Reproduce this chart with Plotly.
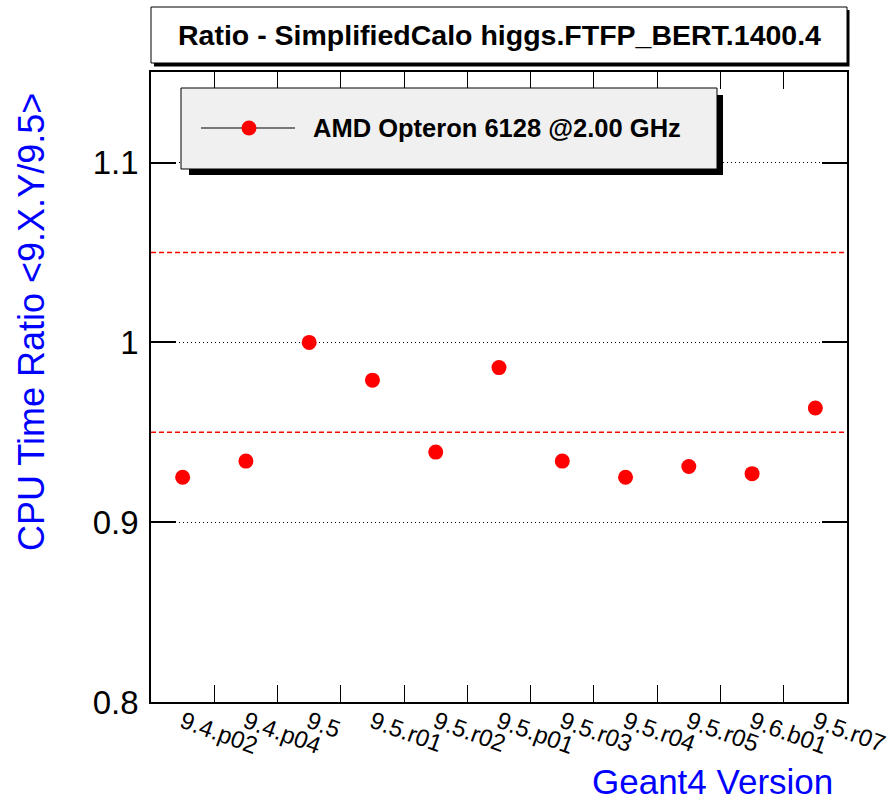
import plotly.graph_objects as go

# ---- data ----
versions = ["9.4.p02", "9.4.p04", "9.5", "9.5.r01", "9.5.r02", "9.5.p01",
            "9.5.r03", "9.5.r04", "9.5.r05", "9.6.b01", "9.5.r07"]
ratio = [0.925, 0.934, 1.000, 0.979, 0.939, 0.986,
         0.934, 0.925, 0.931, 0.927, 0.9635]
band_limits = [0.95, 1.05]
y_tickvals = [0.8, 0.9, 1.0, 1.1]
y_ticktext = ["0.8", "0.9", "1", "1.1"]
series_name = "AMD Opteron 6128 @2.00 GHz"
title_text = "Ratio - SimplifiedCalo higgs.FTFP_BERT.1400.4"
x_title = "Geant4 Version"
y_title = "CPU Time Ratio &lt;9.X.Y/9.5&gt;"

# ---- layout geometry (pixels) ----
W, H = 896, 800
L, R, T, B = 151, 847, 72, 702


def px(xp):
    return (xp - L) / (R - L)


def py(yp):
    return (B - yp) / (B - T)


FONT = "Liberation Sans, Arial, Helvetica, sans-serif"

fig = go.Figure()
fig.add_trace(go.Scatter(
    x=versions, y=ratio, mode="markers",
    marker=dict(color="#ff0000", size=15, line=dict(width=0)),
    name=series_name, showlegend=False, cliponaxis=False,
))

shapes = []
# reference band lines
for v in band_limits:
    shapes.append(dict(type="line", xref="paper", yref="y", x0=0, x1=1, y0=v, y1=v,
                       line=dict(color="#ff0000", width=1.5, dash="5px,3px"), layer="below"))

# title box with shadow
shapes.append(dict(type="rect", xref="paper", yref="paper",
                   x0=px(154), x1=px(849.5), y0=py(66.5), y1=py(10),
                   fillcolor="#000000", line=dict(width=0), layer="above"))
shapes.append(dict(type="rect", xref="paper", yref="paper",
                   x0=px(151), x1=px(847), y0=py(63), y1=py(7),
                   fillcolor="#ffffff", line=dict(color="#000000", width=1), layer="above"))

# legend box with shadow
shapes.append(dict(type="rect", xref="paper", yref="paper",
                   x0=px(189), x1=px(723), y0=py(175), y1=py(95),
                   fillcolor="#000000", line=dict(width=0), layer="above"))
shapes.append(dict(type="rect", xref="paper", yref="paper",
                   x0=px(181), x1=px(717), y0=py(169), y1=py(88),
                   fillcolor="#f0f0f0", line=dict(color="#000000", width=1), layer="above"))
# legend sample: line + marker
shapes.append(dict(type="line", xref="paper", yref="paper",
                   x0=px(201), x1=px(295), y0=py(128), y1=py(128),
                   line=dict(color="#000000", width=1.2), layer="above"))
shapes.append(dict(type="circle", xref="paper", yref="paper",
                   x0=px(241.5), x1=px(256.5), y0=py(135.5), y1=py(120.5),
                   fillcolor="#ff0000", line=dict(width=0), layer="above"))

annotations = [
    dict(text="<b>%s</b>" % title_text, xref="paper", yref="paper",
         x=px(499), y=py(35), xanchor="center", yanchor="middle", showarrow=False,
         font=dict(family=FONT, size=28.5, color="#000000")),
    dict(text="<b>%s</b>" % series_name, xref="paper", yref="paper",
         x=px(311), y=py(128), xanchor="left", yanchor="middle", showarrow=False,
         font=dict(family=FONT, size=25.5, color="#000000")),
    dict(text=x_title, xref="paper", yref="paper",
         x=px(835), y=py(781), xanchor="right", yanchor="middle", showarrow=False,
         font=dict(family=FONT, size=35, color="#0000ff")),
    dict(text=y_title, xref="paper", yref="paper", textangle=-90,
         x=px(31), y=py(322), xanchor="center", yanchor="middle", showarrow=False,
         font=dict(family=FONT, size=36, color="#0000ff")),
]

fig.update_layout(
    width=W, height=H,
    margin=dict(l=L, r=W - R, t=T, b=H - B, pad=0, autoexpand=False),
    paper_bgcolor="#ffffff", plot_bgcolor="#ffffff",
    showlegend=False,
    shapes=shapes, annotations=annotations,
    font=dict(family=FONT, color="#000000"),
)

fig.update_xaxes(
    type="category", categoryorder="array", categoryarray=versions,
    range=[-0.5, len(versions) - 0.5], automargin=False,
    tickson="boundaries", ticks="inside", ticklen=17, tickwidth=1, tickcolor="#000000",
    showline=True, linecolor="#000000", linewidth=1.5, mirror="ticks",
    showgrid=False, zeroline=False, ticklabelstandoff=-5,
    tickangle=20, tickfont=dict(family=FONT, size=24, color="#000000"),
)
fig.update_yaxes(
    range=[0.8, 1.1504], tickvals=y_tickvals, ticktext=y_ticktext, automargin=False,
    ticks="inside", ticklen=25, tickwidth=1.5, tickcolor="#000000",
    showline=True, linecolor="#000000", linewidth=1.5, mirror="ticks",
    showgrid=True, gridcolor="#000000", gridwidth=1, griddash="1px,3px",
    zeroline=False, ticklabelstandoff=4,
    tickfont=dict(family=FONT, size=33, color="#000000"),
)

fig.write_html("out.html")
